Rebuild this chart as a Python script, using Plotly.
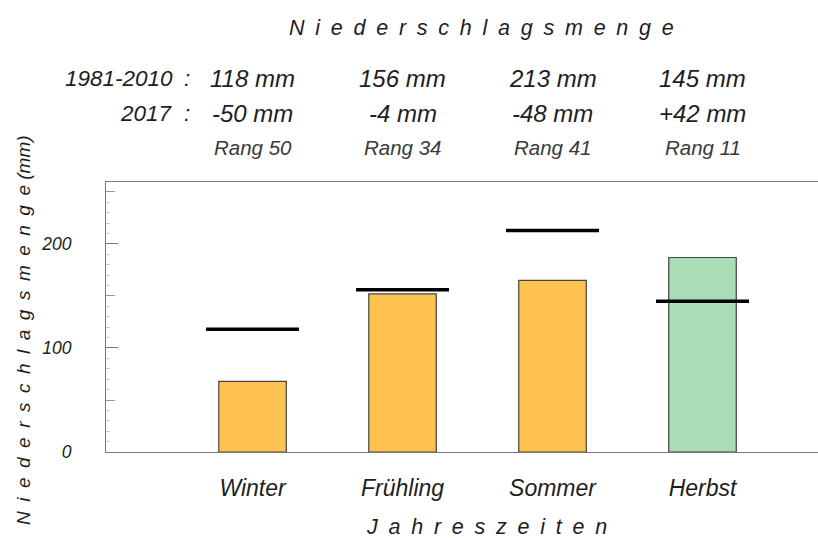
import plotly.graph_objects as go

seasons = ["Winter", "Frühling", "Sommer", "Herbst"]
x_pos = [1, 2, 3, 4]
precip_2017 = [68, 152, 165, 187]
normal_1981_2010 = [118, 156, 213, 145]
deviation_labels = ["-50 mm", "-4 mm", "-48 mm", "+42 mm"]
ranks = [50, 34, 41, 11]
row_labels = ["1981-2010", "2017"]

ORANGE = "#FDC250"
GREEN = "#AADDB6"
FONT = "Liberation Sans"
TXT = "#1e1e1e"
SP = "\u2002"

def spaced(s):
    return SP.join(list(s))

bar_colors = [GREEN if v > n else ORANGE for v, n in zip(precip_2017, normal_1981_2010)]

fig = go.Figure()
fig.add_trace(go.Bar(
    x=x_pos, y=precip_2017, width=0.45,
    marker=dict(color=bar_colors, line=dict(color="#444444", width=1.2)),
    hoverinfo="skip", showlegend=False,
))

# reference lines (1981-2010 normals)
half = 0.31
lx, ly = [], []
for xp, n in zip(x_pos, normal_1981_2010):
    lx += [xp - half, xp + half, None]
    ly += [n, n, None]
fig.add_trace(go.Scatter(x=lx, y=ly, mode="lines",
                         line=dict(color="#000000", width=3.5),
                         hoverinfo="skip", showlegend=False))

# helper trace for the medium (50-step) ticks axis
fig.add_trace(go.Scatter(x=[1], y=[0], yaxis="y2", mode="markers",
                         marker=dict(opacity=0), hoverinfo="skip", showlegend=False))

yrange = [0, 259.6]
xrange = [0.023, 4.77]

fig.update_layout(
    width=818, height=538,
    margin=dict(l=106, r=0, t=182, b=86),
    paper_bgcolor="white", plot_bgcolor="white",
    font=dict(family=FONT, color=TXT),
    xaxis=dict(
        range=xrange, tickvals=x_pos, ticktext=seasons,
        showline=True, mirror=True, linecolor="#777777", linewidth=1,
        ticks="", showgrid=False, zeroline=False,
        ticklabelstandoff=15,
        tickfont=dict(size=23, style="italic", color=TXT),
    ),
    yaxis=dict(
        range=yrange, tickvals=[0, 100, 200],
        showline=True, linecolor="#777777", linewidth=1,
        ticks="inside", ticklen=12, tickcolor="#777777", tickwidth=1,
        minor=dict(dtick=10, ticks="inside", ticklen=4, tickcolor="#cccccc", tickwidth=1, showgrid=False),
        showgrid=False, zeroline=False,
        tickfont=dict(size=17.5, style="italic", color=TXT),
        ticklabelstandoff=30,
    ),
    yaxis2=dict(
        range=yrange, overlaying="y", side="left", tickvals=[50, 150, 250],
        ticks="inside", ticklen=9, tickcolor="#999999", tickwidth=1,
        showticklabels=False, showgrid=False, zeroline=False, showline=False,
    ),
)

PLOT_W = 818 - 106

def py(px):
    # pixel row from top of page -> paper y
    return (452 - px) / 270.0

def pxx(px):
    return (px - 106) / PLOT_W

ann = []
ann.append(dict(text=spaced("Niederschlagsmenge"), x=pxx(482), xref="paper", y=py(28), yref="paper",
                showarrow=False, xanchor="center", yanchor="middle",
                font=dict(size=21.5, style="italic", color=TXT)))
ann.append(dict(text=spaced("Niederschlagsmenge") + " (mm)", x=pxx(23), xref="paper", y=py(330), yref="paper",
                showarrow=False, xanchor="center", yanchor="middle", textangle=-90,
                font=dict(size=19, style="italic", color=TXT)))
ann.append(dict(text=spaced("Jahreszeiten"), x=pxx(486), xref="paper", y=py(527), yref="paper",
                showarrow=False, xanchor="center", yanchor="middle",
                font=dict(size=21.5, style="italic", color=TXT)))
for lbl, yy in zip(row_labels, [79, 113]):
    ann.append(dict(text=lbl, x=pxx(175), xref="paper", y=py(yy), yref="paper",
                    showarrow=False, xanchor="right", yanchor="middle",
                    font=dict(size=22.5, style="italic", color=TXT)))
    ann.append(dict(text=":", x=pxx(187), xref="paper", y=py(yy), yref="paper",
                    showarrow=False, xanchor="center", yanchor="middle",
                    font=dict(size=22.5, style="italic", color=TXT)))
for xp, n, d, r in zip(x_pos, normal_1981_2010, deviation_labels, ranks):
    ann.append(dict(text=f"{n} mm", x=xp, xref="x", y=py(79), yref="paper", showarrow=False,
                    xanchor="center", yanchor="middle", font=dict(size=24, style="italic", color=TXT)))
    ann.append(dict(text=d, x=xp, xref="x", y=py(113), yref="paper", showarrow=False,
                    xanchor="center", yanchor="middle", font=dict(size=24, style="italic", color=TXT)))
    ann.append(dict(text=f"Rang {r}", x=xp, xref="x", y=py(147), yref="paper", showarrow=False,
                    xanchor="center", yanchor="middle", font=dict(size=20.5, style="italic", color="#3a3a3a")))
fig.update_layout(annotations=ann)

fig.write_html("out.html", config={"displayModeBar": False},
               post_script="document.body.style.margin='0px';document.body.style.overflow='hidden';")
